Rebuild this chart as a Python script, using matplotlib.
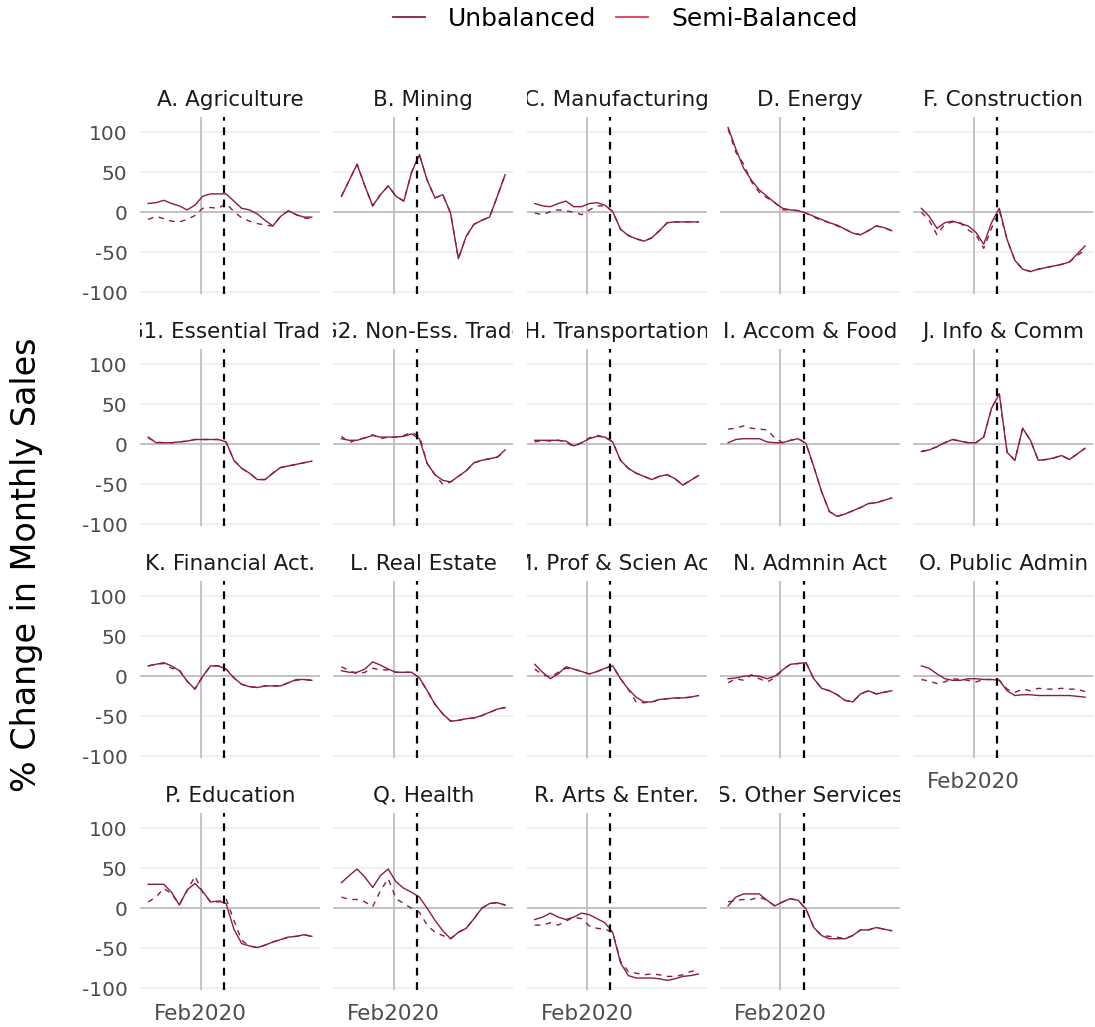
import numpy as np
import pandas as pd
import matplotlib
matplotlib.use("Agg")
import matplotlib.pyplot as plt
from matplotlib.lines import Line2D
from matplotlib.transforms import Bbox, TransformedBbox

# fortnightly observation dates
dates = pd.date_range("2019-10-30", periods=22, freq="14D")
feb_line = pd.Timestamp("2020-02-01")
lockdown = pd.Timestamp("2020-03-14")

# % change in monthly sales
agri_unb = [11, 12, 15, 11, 8, 3, 9, 20, 23, 23, 23, 14, 5, 3, -2, -10, -17, -5, 2, -3, -6, -6]
agri_semi = [-9, -5, -8, -11, -12, -9, -4, 5, 6, 5, 11, 1, -7, -11, -14, -16, -17, -5, 2, -3, -7, -8]
mining_unb = [20, 40, 60, 33, 8, 22, 33, 20, 14, 50, 72, 40, 18, 22, -1, -58, -30, -15, -10, -6, 20, 47]
mining_semi = [20, 40, 60, 33, 8, 22, 33, 20, 14, 50, 72, 40, 18, 22, -1, -58, -30, -15, -10, -6, 20, 47]
manuf_unb = [11, 8, 7, 11, 14, 7, 7, 11, 12, 9, 1, -21, -29, -33, -36, -32, -23, -13, -12, -12, -12, -12]
manuf_semi = [-1, -3, 1, 3, 2, 0, -3, 3, 8, 8, 1, -21, -29, -33, -36, -32, -23, -13, -12, -12, -12, -12]
energy_unb = [106, 79, 55, 40, 28, 20, 12, 5, 3, 2, -1, -5, -9, -13, -16, -21, -26, -28, -23, -17, -19, -23]
energy_semi = [104, 75, 60, 38, 25, 18, 12, 3, 3, 2, -1, -6, -10, -13, -17, -21, -26, -28, -23, -17, -19, -23]
constr_unb = [5, -5, -20, -13, -11, -14, -17, -25, -40, -13, 5, -34, -60, -71, -74, -71, -69, -67, -65, -62, -52, -42]
constr_semi = [0, -10, -28, -15, -12, -13, -22, -28, -45, -20, 2, -34, -60, -71, -74, -71, -69, -67, -65, -62, -54, -47]
ess_unb = [9, 2, 2, 2, 3, 4, 6, 6, 6, 6, 3, -20, -30, -36, -44, -44, -36, -29, -27, -25, -23, -21]
ess_semi = [8, 3, 2, 2, 3, 4, 6, 6, 6, 6, 3, -20, -30, -36, -44, -44, -36, -29, -27, -25, -23, -21]
noness_unb = [7, 5, 5, 8, 11, 9, 9, 9, 10, 13, 7, -24, -38, -45, -47, -40, -33, -23, -20, -18, -16, -7]
noness_semi = [10, 2, 6, 8, 12, 7, 9, 9, 11, 15, 10, -24, -38, -50, -47, -40, -33, -23, -20, -18, -16, -9]
transp_unb = [5, 5, 5, 5, 4, -2, 2, 7, 10, 9, 3, -20, -30, -36, -40, -44, -40, -38, -43, -51, -45, -39]
transp_semi = [3, 5, 4, 5, 3, -3, 2, 8, 11, 9, 3, -20, -30, -36, -40, -44, -40, -38, -43, -51, -45, -39]
accom_unb = [2, 6, 7, 7, 7, 3, 2, 2, 5, 7, 1, -28, -59, -84, -90, -87, -83, -79, -74, -73, -70, -67]
accom_semi = [19, 20, 23, 20, 19, 18, 8, 2, 5, 7, 1, -28, -59, -84, -90, -87, -83, -79, -74, -73, -70, -67]
info_unb = [-9, -7, -3, 2, 6, 4, 2, 2, 9, 45, 63, -10, -20, 20, 5, -20, -19, -17, -14, -19, -12, -5]
info_semi = [-9, -7, -3, 2, 6, 4, 2, 2, 9, 45, 63, -10, -20, 20, 5, -20, -19, -17, -14, -19, -12, -5]
fin_unb = [13, 15, 17, 13, 7, -6, -16, 0, 13, 13, 9, -2, -10, -13, -14, -12, -12, -12, -8, -4, -4, -5]
fin_semi = [13, 15, 16, 10, 8, -6, -16, 0, 13, 13, 9, -2, -10, -13, -14, -12, -12, -12, -8, -5, -4, -5]
realest_unb = [7, 5, 5, 9, 18, 14, 9, 5, 5, 5, -2, -18, -35, -47, -56, -55, -53, -52, -49, -45, -41, -39]
realest_semi = [12, 7, 3, 5, 10, 8, 8, 5, 5, 5, -2, -18, -35, -47, -56, -55, -53, -52, -49, -45, -41, -39]
prof_unb = [15, 5, -3, 3, 12, 9, 6, 3, 6, 10, 13, -3, -16, -26, -32, -32, -29, -28, -27, -27, -26, -24]
prof_semi = [9, 2, -1, 5, 10, 9, 6, 3, 6, 10, 13, -3, -16, -32, -33, -32, -29, -28, -27, -27, -26, -24]
admin_unb = [-3, -2, 0, 1, 0, -3, 0, 8, 15, 16, 17, -3, -15, -18, -23, -30, -32, -22, -18, -22, -20, -18]
admin_semi = [-8, -3, -5, 2, -3, -7, -2, 8, 15, 16, 17, -3, -15, -18, -23, -30, -32, -22, -18, -22, -20, -18]
public_unb = [13, 10, 3, -3, -5, -5, -3, -3, -4, -4, -5, -18, -24, -23, -23, -24, -24, -24, -24, -24, -25, -26]
public_semi = [-4, -6, -9, -7, -3, -4, -5, -7, -4, -4, -5, -16, -20, -16, -18, -15, -16, -16, -15, -16, -16, -19]
educ_unb = [30, 30, 30, 20, 4, 23, 31, 21, 8, 9, 6, -26, -44, -47, -49, -46, -42, -39, -36, -35, -33, -35]
educ_semi = [8, 14, 25, 18, 5, 22, 40, 20, 8, 8, 12, -15, -40, -47, -49, -46, -42, -39, -36, -35, -33, -35]
health_unb = [32, 41, 49, 39, 26, 41, 49, 33, 25, 20, 14, 0, -15, -28, -38, -30, -25, -13, 0, 6, 7, 4]
health_semi = [14, 11, 11, 8, 2, 22, 37, 12, 6, 0, -5, -21, -30, -34, -38, -30, -25, -13, 0, 6, 7, 4]
arts_unb = [-14, -11, -6, -11, -14, -11, -6, -8, -13, -18, -30, -68, -84, -87, -87, -87, -88, -90, -88, -85, -84, -82]
arts_semi = [-21, -21, -18, -21, -16, -11, -13, -22, -25, -26, -30, -66, -79, -81, -83, -82, -83, -85, -85, -83, -79, -77]
other_unb = [3, 14, 18, 18, 18, 10, 3, 8, 12, 10, -1, -24, -34, -38, -38, -38, -34, -27, -27, -24, -26, -28]
other_semi = [8, 10, 11, 11, 14, 10, 3, 8, 12, 10, -1, -24, -34, -35, -36, -38, -34, -27, -27, -24, -26, -28]

titles = ["A. Agriculture", "B. Mining", "C. Manufacturing", "D. Energy", "F. Construction",
          "G1. Essential Trade", "G2. Non-Ess. Trade", "H. Transportation", "I. Accom & Food",
          "J. Info & Comm", "K. Financial Act.", "L. Real Estate", "M. Prof & Scien Act",
          "N. Admnin Act", "O. Public Admin", "P. Education", "Q. Health", "R. Arts & Enter.",
          "S. Other Services"]
unbalanced = [agri_unb, mining_unb, manuf_unb, energy_unb, constr_unb, ess_unb, noness_unb,
              transp_unb, accom_unb, info_unb, fin_unb, realest_unb, prof_unb, admin_unb,
              public_unb, educ_unb, health_unb, arts_unb, other_unb]
semi_balanced = [agri_semi, mining_semi, manuf_semi, energy_semi, constr_semi, ess_semi, noness_semi,
                 transp_semi, accom_semi, info_semi, fin_semi, realest_semi, prof_semi, admin_semi,
                 public_semi, educ_semi, health_semi, arts_semi, other_semi]

LINE_COL = "#8B1C45"
W, H = 1095, 1027

fig = plt.figure(figsize=(W / 100, H / 100), dpi=100)

span = dates[-1] - dates[0]
xlim = (dates[0] - span * 0.05, dates[-1] + span * 0.05)

for k, title in enumerate(titles):
    r, c = divmod(k, 5)
    left = 140 + 193.3 * c
    top = 117 + 232 * r
    ax = fig.add_axes([left / W, 1 - (top + 177) / H, 180 / W, 177 / H])

    for s in ax.spines.values():
        s.set_visible(False)
    ax.set_xlim(xlim)
    ax.set_ylim(-102, 119)
    ax.set_yticks([-100, -50, 0, 50, 100])
    ax.set_xticks([feb_line])
    ax.grid(axis="y", color="#EBEBEB", lw=1.1)
    ax.set_axisbelow(True)
    ax.tick_params(length=0, labelcolor="#4D4D4D")
    ax.tick_params(axis="y", pad=9, labelsize=14.5)
    ax.tick_params(axis="x", pad=10, labelsize=15.5)

    if c == 0:
        ax.set_yticklabels(["-100", "-50", "0", "50", "100"])
    else:
        ax.set_yticklabels([])
    # x label only where there is no panel underneath
    if k >= 14:
        ax.set_xticklabels(["Feb2020"])
    else:
        ax.set_xticklabels([])

    ax.axhline(0, color="#BEBEBE", lw=1.3, zorder=1)
    ax.axvline(feb_line, color="#BEBEBE", lw=1.3, zorder=1)
    ax.axvline(lockdown, color="black", lw=1.6, ls=(0, (3.5, 3)), zorder=4)

    ax.plot(dates, semi_balanced[k], color=LINE_COL, lw=1.0, ls=(0, (4, 4)), zorder=3)
    ax.plot(dates, unbalanced[k], color=LINE_COL, lw=1.0, zorder=3)

    t = ax.text(0.5, 1 + 17 / 177, title, transform=ax.transAxes, ha="center", va="center",
                fontsize=15.5, color="#1A1A1A")
    t.set_clip_on(True)
    t.set_clip_box(TransformedBbox(Bbox([[0, 1], [1, 1.3]]), ax.transAxes))

fig.text(27 / W, 1 - 565 / H, "% Change in Monthly Sales", rotation=90, ha="center", va="center",
         fontsize=24)

handles = [Line2D([], [], color="#8D1B49", lw=1.3), Line2D([], [], color="#E5394F", lw=1.3)]
fig.legend(handles, ["Unbalanced", "Semi-Balanced"], loc="center", bbox_to_anchor=(625 / W, 1 - 19 / H),
           ncol=2, frameon=False, fontsize=18, handlelength=1.3, handletextpad=0.9,
           columnspacing=0.8)

fig.savefig("out.png", dpi=100)
